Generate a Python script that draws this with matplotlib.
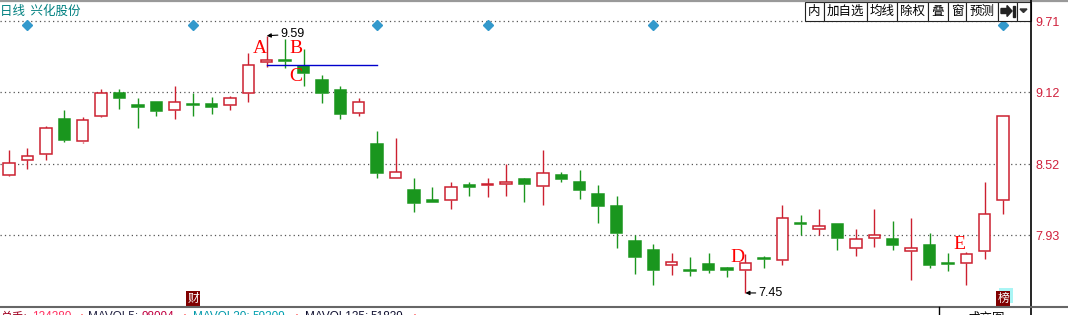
import matplotlib.pyplot as plt
import matplotlib.transforms as mtransforms
from matplotlib.patches import Rectangle, Polygon

plt.rcParams['font.family'] = ['Noto Sans CJK SC', 'DejaVu Sans']

# 日K数据 (开, 高, 低, 收)
opens = [8.43, 8.56, 8.61, 8.90, 8.71, 8.92, 9.11, 9.01, 9.04, 8.97,
         9.02, 9.02, 9.01, 9.11, 9.37, 9.39, 9.34, 9.22, 9.14, 8.95,
         8.69, 8.41, 8.31, 8.22, 8.22, 8.35, 8.35, 8.36, 8.40, 8.34,
         8.43, 8.37, 8.27, 8.17, 7.88, 7.81, 7.68, 7.64, 7.69, 7.66,
         7.64, 7.74, 7.72, 8.03, 7.98, 8.02, 7.82, 7.91, 7.90, 7.80,
         7.85, 7.70, 7.70, 7.80, 8.22]
highs = [8.64, 8.66, 8.84, 8.97, 8.91, 9.15, 9.15, 9.07, 9.04, 9.17,
         9.11, 9.08, 9.09, 9.45, 9.59, 9.56, 9.48, 9.26, 9.17, 9.07,
         8.80, 8.74, 8.41, 8.33, 8.37, 8.37, 8.41, 8.52, 8.41, 8.64,
         8.46, 8.47, 8.35, 8.26, 7.93, 7.86, 7.78, 7.75, 7.78, 7.67,
         7.77, 7.76, 8.18, 8.10, 8.15, 8.02, 7.98, 8.15, 8.05, 8.07,
         7.95, 7.78, 7.79, 8.37, 8.92]
lows = [8.42, 8.48, 8.56, 8.71, 8.70, 8.91, 8.98, 8.82, 8.92, 8.90,
        8.92, 8.94, 8.97, 9.04, 9.33, 9.32, 9.17, 9.03, 8.90, 8.92,
        8.41, 8.41, 8.12, 8.21, 8.15, 8.26, 8.25, 8.26, 8.21, 8.18,
        8.37, 8.23, 8.03, 7.82, 7.61, 7.52, 7.60, 7.59, 7.62, 7.58,
        7.45, 7.66, 7.68, 7.93, 7.93, 7.81, 7.76, 7.83, 7.81, 7.56,
        7.66, 7.63, 7.52, 7.73, 8.11]
closes = [8.53, 8.59, 8.82, 8.72, 8.89, 9.11, 9.07, 9.00, 8.96, 9.04,
          9.01, 9.00, 9.07, 9.35, 9.39, 9.38, 9.28, 9.11, 8.94, 9.04,
          8.45, 8.46, 8.20, 8.21, 8.33, 8.33, 8.36, 8.37, 8.36, 8.45,
          8.40, 8.31, 8.17, 7.95, 7.75, 7.64, 7.71, 7.63, 7.64, 7.64,
          7.70, 7.73, 8.07, 8.02, 8.01, 7.91, 7.90, 7.93, 7.85, 7.82,
          7.68, 7.69, 7.77, 8.11, 8.92]

price_ticks = [7.93, 8.52, 9.12, 9.71]
diamond_idx = [1, 10, 20, 26, 35, 54]
marks = {'A': (13.6, 9.48), 'B': (15.6, 9.48), 'C': (15.6, 9.25),
         'D': (39.55, 7.745), 'E': (51.6, 7.853)}
tool_buttons = ['内', '加自选', '均线', '除权', '叠', '窗', '预测']
tool_edges = [805, 824, 867, 897, 928, 948, 966, 998, 1017, 1031]
vol_text = [('总手:', '#a00020'), ('124280', '#ff3060'), ('↑', '#ff0000'),
            ('MAVOL5:', '#202040'), ('98094', '#c00040'), ('↑', '#ff0000'),
            ('MAVOL20:', '#0099aa'), ('59209', '#00a0b0'), ('↑', '#ff0000'),
            ('MAVOL135:', '#101030'), ('51839', '#101030'), ('↑', '#ff0000')]
vol_x = [0, 32, 78, 88, 141, 181, 193, 252, 293, 305, 370, 411]

RED = '#cc2030'
GREEN = '#1a961e'
W, H = 1068, 315
STEP = 18.41
PX = 120.2  # 每元像素

fig = plt.figure(figsize=(W / 100, H / 100), dpi=100)
ax = fig.add_axes([0, (H - 307) / H, 1031 / W, 307 / H])
ax.set_xlim(-9 / STEP, (1031 - 9) / STEP)
ax.set_ylim(9.71 - (307 - 21.3) / PX, 9.71 + 21.3 / PX)
for s in ax.spines.values():
    s.set_visible(False)
ax.set_xticks([])
ax.set_yticks(price_ticks)
ax.yaxis.tick_right()
ax.tick_params(axis='y', length=0, pad=3, labelsize=9, labelcolor='#d0203c',
               labelfontfamily='Liberation Sans')
ax.yaxis.grid(True, linestyle=(0, (1, 2.5)), color='#555555', lw=0.9)
ax.set_axisbelow(True)

# K线
bw = 0.62
for i in range(len(opens)):
    o, h, l, c = opens[i], highs[i], lows[i], closes[i]
    top, bot = max(o, c), min(o, c)
    col = RED if c > o else GREEN
    ax.vlines(i, top, h, color=col, lw=1.0, zorder=3)
    ax.vlines(i, l, bot, color=col, lw=1.0, zorder=3)
    fc = 'white' if c > o else GREEN
    ax.add_patch(Rectangle((i - bw / 2, bot), bw, max(top - bot, 0.004),
                           facecolor=fc, edgecolor=col, lw=1.1, zorder=4))

ax.plot(diamond_idx, [9.68] * len(diamond_idx), 'D', color='#3399cc', ms=5, zorder=5)
ax.plot([14, 20], [9.35, 9.35], color='#0000cc', lw=1.0, zorder=5)

for k, (x, y) in marks.items():
    ax.text(x, y, k, color='#ff0000', fontsize=14, family='Liberation Serif',
            ha='center', va='center', zorder=6)

ax.annotate('9.59', xy=(14, 9.59), xytext=(10, 1), textcoords='offset points',
            fontsize=9, family='Liberation Sans', va='center', ha='left',
            arrowprops=dict(arrowstyle='-|>', color='k', lw=0.8, shrinkA=0,
                            shrinkB=0, mutation_scale=6), zorder=6)
ax.annotate('7.45', xy=(40, 7.45), xytext=(9.4, 0), textcoords='offset points',
            fontsize=9, family='Liberation Sans', va='center', ha='left',
            arrowprops=dict(arrowstyle='-|>', color='k', lw=0.8, shrinkA=0,
                            shrinkB=0, mutation_scale=6), zorder=6)

ax.text(10, 7.404, '财', color='white', fontsize=8.5, ha='center', va='center',
        bbox=dict(boxstyle='square,pad=0.08', fc='#800000', ec='none'), zorder=6)
shift = mtransforms.offset_copy(ax.transData, fig=fig, x=2.2, y=2.2, units='points')
ax.text(54, 7.404, '榜', color='#aaf5f5', fontsize=8.5, ha='center', va='center',
        transform=shift, bbox=dict(boxstyle='square,pad=0.08', fc='#aaf5f5', ec='none'), zorder=6)
ax.text(54, 7.404, '榜', color='white', fontsize=8.5, ha='center', va='center',
        bbox=dict(boxstyle='square,pad=0.08', fc='#800000', ec='none'), zorder=7)

# 边框、工具栏、标题等 (像素坐标)
ov = fig.add_axes([0, 0, 1, 1], zorder=5)
ov.set_xlim(0, W)
ov.set_ylim(H, 0)
ov.axis('off')
ov.patch.set_alpha(0)

ov.plot([0, W], [0.8, 0.8], color='#999999', lw=1.6)
ov.plot([1031, 1031], [0, H], color='black', lw=1.2)
ov.plot([0, W], [307, 307], color='#666666', lw=1.5)
ov.plot([939, 939], [307, H], color='black', lw=1.0)

ov.text(0, 11, '日线  兴化股份', color='#008080', fontsize=9, va='center', ha='left')

for j in range(len(tool_edges) - 1):
    x0, x1 = tool_edges[j], tool_edges[j + 1]
    ov.add_patch(Rectangle((x0, 1.5), x1 - x0, 19, facecolor='white',
                           edgecolor='#222222', lw=0.8))
    if j < len(tool_buttons):
        ov.text((x0 + x1) / 2, 11, tool_buttons[j], fontsize=9, ha='center',
                va='center', color='black')
ov.add_patch(Polygon([[1001, 8.5], [1007, 8.5], [1007, 5.5], [1012, 11],
                      [1007, 16.5], [1007, 13.5], [1001, 13.5]], closed=True,
                     color='#222222'))
ov.add_patch(Rectangle((1012.5, 5.5), 2, 11, color='#222222'))
ov.add_patch(Polygon([[1020, 9], [1027, 9], [1023.5, 12.5]], closed=True,
                     color='#333333'))

# 底部成交量栏,只露出上半部分
for (txt, col), x in zip(vol_text, vol_x):
    ov.text(x, 311.5, txt, color=col, fontsize=8.5, va='top', ha='left',
            family=['Liberation Sans', 'Noto Sans CJK SC'])
ov.text(968, 311.5, '成交图', color='black', fontsize=9, va='top', ha='left')

fig.savefig('out.png', dpi=100, facecolor='white')
